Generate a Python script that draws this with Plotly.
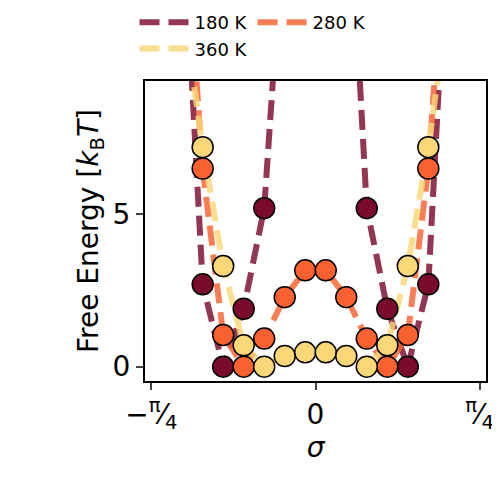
import numpy as np
import plotly.graph_objects as go

# bin centers in units of pi/32, including the off-screen outer bins used by the lines
bins = [-6.5, -5.5, -4.5, -3.5, -2.5, -1.5, -0.5, 0.5, 1.5, 2.5, 3.5, 4.5, 5.5, 6.5]
sigma = [b * np.pi / 32 for b in bins]
labels = ["180 K", "280 K", "360 K"]
colors = ["#7b0b2d", "#f96230", "#fbd777"]
fe_180 = [15.4, 2.7, 0.0, 1.9, 5.2, 17.5, 25.0, 25.0, 17.5, 5.2, 1.9, 0.0, 2.7, 15.4]
fe_280 = [16.0, 6.5, 1.04, 0.0, 0.92, 2.28, 3.16, 3.16, 2.28, 0.92, 0.0, 1.04, 6.5, 16.0]
fe_360 = [12.0, 7.2, 3.3, 0.7, 0.0, 0.35, 0.47, 0.47, 0.35, 0.0, 0.7, 3.3, 7.2, 12.0]

fig = go.Figure()
for ys, lab, c in zip([fe_180, fe_280, fe_360], labels, colors):
    fig.add_trace(go.Scatter(x=sigma, y=ys, mode="lines", name=lab,
                             line=dict(color=c, width=6, dash="20px,9px"),
                             opacity=0.82))
for ys, lab, c in zip([fe_180, fe_280, fe_360], labels, colors):
    fig.add_trace(go.Scatter(x=sigma, y=ys, mode="markers", showlegend=False,
                             marker=dict(color=c, size=21, line=dict(color="black", width=1.5)),
                             cliponaxis=True))

fig.update_layout(
    width=500, height=500, plot_bgcolor="white", paper_bgcolor="white",
    margin=dict(l=137, r=22, t=62, b=127),
    font=dict(family="DejaVu Sans", size=22, color="black"),
    showlegend=True,
    legend=dict(orientation="h", x=0.49, xanchor="center", y=0.945, yanchor="middle",
                xref="container", yref="container", font=dict(size=18),
                itemwidth=50, tracegroupgap=0),
)
fig.update_xaxes(range=[-0.816, 0.816], showline=True, linecolor="black", linewidth=2,
                 mirror=True, ticks="outside", ticklen=7, tickwidth=2,
                 tickvals=[-np.pi / 4, 0, np.pi / 4],
                 ticktext=["−<sup>π</sup>⁄<sub>4</sub>", "0", "<sup>π</sup>⁄<sub>4</sub>"],
                 tickfont=dict(size=28), showgrid=False, zeroline=False,
                 title=dict(text="<i>σ</i>", font=dict(size=28), standoff=2))
fig.update_yaxes(range=[-0.47, 9.37], showline=True, linecolor="black", linewidth=2,
                 mirror=True, ticks="outside", ticklen=7, tickwidth=2,
                 tickvals=[0, 5], tickfont=dict(size=28), showgrid=False, zeroline=False,
                 title=dict(text="Free Energy [<i>k</i><sub>B</sub><i>T</i>]",
                            font=dict(size=28), standoff=6))
fig.write_html("out.html")
